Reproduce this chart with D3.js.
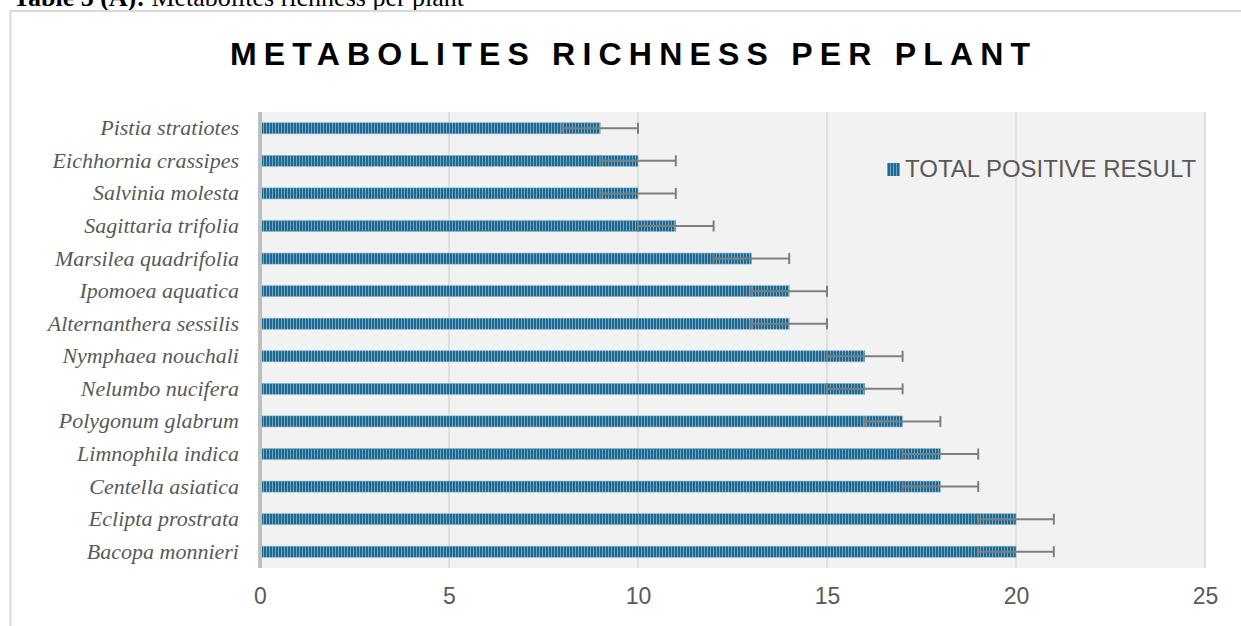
<!DOCTYPE html>
<html>
<head>
<meta charset="utf-8">
<script src="https://cdn.jsdelivr.net/npm/d3@7"></script>
<style>
    body { margin: 0; background: #fff; }
    svg { display: block; }
    .caption { font-family: "Liberation Serif", "Times New Roman", serif; font-size: 26px; fill: #000; }
    .chart_title { font-family: "Liberation Sans", Arial, sans-serif; font-size: 32px; font-weight: bold; letter-spacing: 7.2px; fill: #000; }
    .cat_label { font-family: "Liberation Serif", "Times New Roman", serif; font-size: 22px; font-style: italic; fill: #595959; }
    .tick_label { font-family: "Liberation Sans", Arial, sans-serif; font-size: 23px; fill: #595959; }
    .legend_text { font-family: "Liberation Sans", Arial, sans-serif; font-size: 24px; fill: #595959; }
</style>
</head>
<body>
<svg id="chart" width="1241" height="626"></svg>
<script>
// 植物ごとの値 (上から順に)
const plants = [
    'Pistia stratiotes', 'Eichhornia crassipes', 'Salvinia molesta', 'Sagittaria trifolia',
    'Marsilea quadrifolia', 'Ipomoea aquatica', 'Alternanthera sessilis', 'Nymphaea nouchali',
    'Nelumbo nucifera', 'Polygonum glabrum', 'Limnophila indica', 'Centella asiatica',
    'Eclipta prostrata', 'Bacopa monnieri'
];
const total_positive = [9, 10, 10, 11, 13, 14, 14, 16, 16, 17, 18, 18, 20, 20];
const error_amount = [1, 1, 1, 1, 1, 1, 1, 1, 1, 1, 1, 1, 1, 1];
const x_ticks = [0, 5, 10, 15, 20, 25];
const series_name = 'TOTAL POSITIVE RESULT';

// 描画エリア
const plot = { left: 260, right: 1205, top: 112, bottom: 568 };

const svg = d3.select('#chart');

// 縞模様のパターン
const defs = svg.append('defs');
const pat = defs.append('pattern')
    .attr('id', 'bar_stripes')
    .attr('patternUnits', 'userSpaceOnUse')
    .attr('width', 3)
    .attr('height', 10);
pat.append('rect').attr('width', 3).attr('height', 10).attr('fill', '#1f6890');
pat.append('rect').attr('x', 2).attr('width', 1).attr('height', 10).attr('fill', '#6ea6c4');

// 表のキャプション (上が切れている)
const cap = svg.append('text').attr('class', 'caption').attr('x', 13).attr('y', 6);
cap.append('tspan').attr('font-weight', 'bold').text('Table 5 (A):');
cap.append('tspan').text(' Metabolites richness per plant');

// チャート枠
svg.append('rect')
    .attr('x', 10.5).attr('y', 11)
    .attr('width', 1400).attr('height', 800)
    .attr('fill', 'none')
    .attr('stroke', '#d9d9d9')
    .attr('stroke-width', 2);

// タイトル
svg.append('text')
    .attr('class', 'chart_title')
    .attr('x', 630 + 3.6)
    .attr('y', 65)
    .attr('text-anchor', 'middle')
    .text('METABOLITES RICHNESS PER PLANT');

// スケール
const x = d3.scaleLinear().domain([0, 25]).range([plot.left, plot.right]);
const y = d3.scaleBand().domain(plants).range([plot.top, plot.bottom])
    .paddingInner(0.66).paddingOuter(0.33);

// 背景
svg.append('rect')
    .attr('x', plot.left).attr('y', plot.top)
    .attr('width', plot.right - plot.left).attr('height', plot.bottom - plot.top)
    .attr('fill', '#f2f2f2');

// グリッド線
svg.append('g')
    .selectAll('line')
    .data(x_ticks)
    .join('line')
    .attr('x1', d => x(d)).attr('x2', d => x(d))
    .attr('y1', plot.top).attr('y2', plot.bottom)
    .attr('stroke', '#d9d9d9')
    .attr('stroke-width', 1.5);

// 棒
const rows = plants.map((p, i) => ({ name: p, value: total_positive[i], err: error_amount[i] }));
svg.append('g')
    .selectAll('rect')
    .data(rows)
    .join('rect')
    .attr('x', x(0))
    .attr('y', d => y(d.name))
    .attr('width', d => x(d.value) - x(0))
    .attr('height', y.bandwidth())
    .attr('fill', 'url(#bar_stripes)')
    .attr('stroke', '#8cb8cf')
    .attr('stroke-width', 0.6);

// エラーバー
const err_g = svg.append('g')
    .attr('stroke', '#7f7f7f')
    .attr('stroke-width', 2);
rows.forEach(d => {
    const cy = y(d.name) + y.bandwidth() / 2;
    const x1 = x(d.value - d.err), x2 = x(d.value + d.err);
    err_g.append('line').attr('x1', x1).attr('x2', x2).attr('y1', cy).attr('y2', cy);
    err_g.append('line').attr('x1', x1).attr('x2', x1).attr('y1', cy - 5.5).attr('y2', cy + 5.5);
    err_g.append('line').attr('x1', x2).attr('x2', x2).attr('y1', cy - 5.5).attr('y2', cy + 5.5);
});

// 縦軸の線
svg.append('line')
    .attr('x1', plot.left).attr('x2', plot.left)
    .attr('y1', plot.top).attr('y2', plot.bottom)
    .attr('stroke', '#bfbfbf')
    .attr('stroke-width', 4);

// 縦軸ラベル
const y_axis = svg.append('g')
    .attr('transform', `translate(${plot.left},0)`)
    .call(d3.axisLeft(y).tickSize(0).tickPadding(21));
y_axis.select('.domain').remove();
y_axis.selectAll('text').attr('class', 'cat_label').attr('fill', null)
    .attr('font-family', null).attr('font-size', null);

// 横軸ラベル
const x_axis = svg.append('g')
    .attr('transform', `translate(0,${plot.bottom})`)
    .call(d3.axisBottom(x).tickValues(x_ticks).tickSize(0).tickPadding(20));
x_axis.select('.domain').remove();
x_axis.selectAll('text').attr('class', 'tick_label').attr('fill', null)
    .attr('font-family', null).attr('font-size', null);
svg.selectAll('.tick text').attr('style', null);
svg.selectAll('g').filter(function () { return this.hasAttribute('font-family'); })
    .attr('font-family', null).attr('font-size', null);

// 凡例
svg.append('rect')
    .attr('x', 887).attr('y', 163)
    .attr('width', 13).attr('height', 13)
    .attr('fill', 'url(#bar_stripes)');
svg.append('text')
    .attr('class', 'legend_text')
    .attr('x', 905).attr('y', 177)
    .text(series_name);
</script>
</body>
</html>
